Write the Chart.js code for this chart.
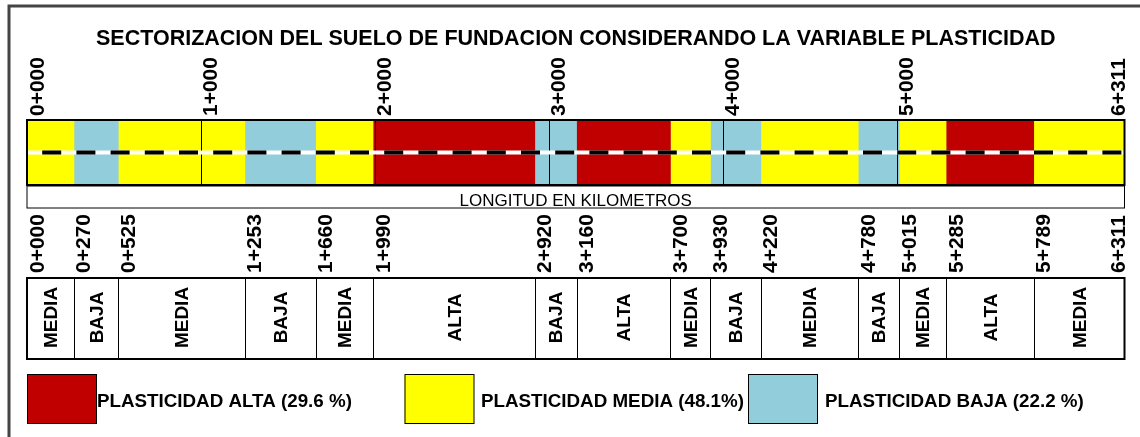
<!DOCTYPE html>
<html>
<head>
<meta charset="utf-8">
<script src="https://cdn.jsdelivr.net/npm/chart.js@4.4.1/dist/chart.umd.min.js"></script>
<style>
  body { margin: 0; background: #fff; }
  canvas { display: block; }
</style>
</head>
<body>
<canvas id="sectorChart" width="1140" height="437"></canvas>
<script>
const titleText = 'SECTORIZACION DEL SUELO DE FUNDACION CONSIDERANDO LA VARIABLE PLASTICIDAD';
const axisTitle = 'LONGITUD EN KILOMETROS';

// progresivas (km) de los limites de cada tramo
const chainages = [0, 0.270, 0.525, 1.253, 1.660, 1.990, 2.920, 3.160, 3.700, 3.930, 4.220, 4.780, 5.015, 5.285, 5.789, 6.311];
const chainageLabels = ['0+000', '0+270', '0+525', '1+253', '1+660', '1+990', '2+920', '3+160', '3+700', '3+930', '4+220', '4+780', '5+015', '5+285', '5+789', '6+311'];

// plasticidad de cada tramo
const sectors = ['MEDIA', 'BAJA', 'MEDIA', 'BAJA', 'MEDIA', 'ALTA', 'BAJA', 'ALTA', 'MEDIA', 'BAJA', 'MEDIA', 'BAJA', 'MEDIA', 'ALTA', 'MEDIA'];

// marcas de kilometro
const kmTicks = [0, 1, 2, 3, 4, 5, 6.311];
const kmLabels = ['0+000', '1+000', '2+000', '3+000', '4+000', '5+000', '6+311'];

const legendClasses = ['ALTA', 'MEDIA', 'BAJA'];
const legendLabels = ['PLASTICIDAD ALTA (29.6 %)', 'PLASTICIDAD MEDIA (48.1%)', 'PLASTICIDAD BAJA (22.2 %)'];

const classColors = { ALTA: '#C00000', MEDIA: '#FFFF00', BAJA: '#92CDDC' };
const FONT = "'Liberation Sans', Arial, sans-serif";

const datasets = sectors.map((s, i) => ({
  label: s,
  data: [[chainages[i], chainages[i + 1]]],
  backgroundColor: classColors[s],
  borderWidth: 0,
  grouped: false,
  barPercentage: 1,
  categoryPercentage: 1
}));

// texto vertical (se lee de abajo hacia arriba)
function vText(ctx, text, x, y, align) {
  ctx.save();
  ctx.translate(x, y);
  ctx.rotate(-Math.PI / 2);
  ctx.textAlign = align;
  ctx.textBaseline = 'alphabetic';
  ctx.fillText(text, 0, 0);
  ctx.restore();
}

const sketchPlugin = {
  id: 'sketchPlugin',
  afterDatasetsDraw(chart) {
    const { ctx, chartArea: { top, bottom, left, right }, scales: { x } } = chart;
    const px = v => x.getPixelForValue(v);
    const mid = (left + right) / 2;

    ctx.save();

    // marco exterior
    ctx.strokeStyle = '#444';
    ctx.lineWidth = 3;
    ctx.strokeRect(9, 6, 1200, 500);

    // titulo
    ctx.fillStyle = '#000';
    ctx.font = `bold 21.5px ${FONT}`;
    ctx.textAlign = 'center';
    ctx.textBaseline = 'alphabetic';
    ctx.fillText(titleText, mid, 44.5);

    // lineas de kilometro dentro de la franja
    ctx.strokeStyle = '#000';
    ctx.lineWidth = 1;
    kmTicks.slice(1, -1).forEach(k => {
      const xx = Math.round(px(k)) + 0.5;
      ctx.beginPath();
      ctx.moveTo(xx, top);
      ctx.lineTo(xx, bottom);
      ctx.stroke();
    });

    // eje del trazo (blanco + discontinua negra)
    const yAxis = 152.5;
    ctx.lineWidth = 4;
    ctx.strokeStyle = '#fff';
    ctx.beginPath();
    ctx.moveTo(left, yAxis);
    ctx.lineTo(right, yAxis);
    ctx.stroke();
    ctx.strokeStyle = '#000';
    ctx.setLineDash([19, 15.2]);
    ctx.lineDashOffset = 19;
    ctx.beginPath();
    ctx.moveTo(left, yAxis);
    ctx.lineTo(right, yAxis);
    ctx.stroke();
    ctx.setLineDash([]);

    // borde de la franja
    ctx.lineWidth = 2;
    ctx.strokeRect(left, top, right - left, bottom - top);

    // etiquetas de kilometro arriba
    ctx.font = `bold 21px ${FONT}`;
    kmTicks.forEach((k, i) => {
      const last = i === kmTicks.length - 1;
      vText(ctx, kmLabels[i], last ? px(k) : px(k) + 16.5, 116, 'left');
    });

    // caja LONGITUD EN KILOMETROS
    ctx.lineWidth = 1;
    ctx.strokeRect(left, bottom + 1, right - left, 22);
    ctx.font = `17px ${FONT}`;
    ctx.textAlign = 'center';
    ctx.fillText(axisTitle, mid, 205.5);

    // progresivas de los tramos
    ctx.font = `bold 21px ${FONT}`;
    chainages.forEach((c, i) => {
      const last = i === chainages.length - 1;
      vText(ctx, chainageLabels[i], last ? px(c) : px(c) + 16.5, 273, 'left');
    });

    // tabla de tramos
    const tTop = 278, tBot = 359;
    ctx.lineWidth = 1;
    chainages.slice(1, -1).forEach(c => {
      const xx = Math.round(px(c)) + 0.5;
      ctx.beginPath();
      ctx.moveTo(xx, tTop);
      ctx.lineTo(xx, tBot);
      ctx.stroke();
    });
    ctx.lineWidth = 2;
    ctx.strokeRect(left, tTop, right - left, tBot - tTop);
    ctx.font = `bold 19px ${FONT}`;
    sectors.forEach((s, i) => {
      const cx = (px(chainages[i]) + px(chainages[i + 1])) / 2;
      vText(ctx, s, cx + 6.8, (tTop + tBot) / 2 - 1, 'center');
    });

    // leyenda
    const boxX = [27, 404.5, 748];
    const textX = [97, 481, 825];
    ctx.lineWidth = 1;
    ctx.font = `bold 18.8px ${FONT}`;
    ctx.textAlign = 'left';
    legendClasses.forEach((c, i) => {
      ctx.fillStyle = classColors[c];
      ctx.fillRect(boxX[i], 374.5, 69.5, 49);
      ctx.strokeStyle = '#000';
      ctx.strokeRect(boxX[i] + 0.5, 374.5, 69, 49);
      ctx.fillStyle = '#000';
      ctx.fillText(legendLabels[i], textX[i], 406.5);
    });

    ctx.restore();
  }
};

const config = {
  type: 'bar',
  data: {
    labels: ['tramo'],
    datasets
  },
  options: {
    responsive: false,
    animation: false,
    devicePixelRatio: 1,
    indexAxis: 'y',
    layout: {
      padding: { left: 27, right: 15.5, top: 120, bottom: 252 }
    },
    plugins: {
      legend: { display: false },
      tooltip: { enabled: false }
    },
    scales: {
      x: { type: 'linear', min: 0, max: 6.311, display: false },
      y: { display: false }
    }
  },
  plugins: [sketchPlugin]
};

new Chart(document.getElementById('sectorChart'), config);
</script>
</body>
</html>
